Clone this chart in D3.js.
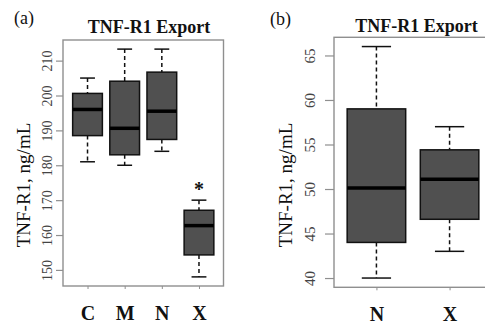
<!DOCTYPE html>
<html>
<head>
<meta charset="utf-8">
<script src="https://cdn.jsdelivr.net/npm/d3@7"></script>
<style>
  html, body { margin: 0; padding: 0; background: #fff; }
  svg { display: block; }
  text { font-family: "Liberation Serif", "Times New Roman", serif; }
</style>
</head>
<body>
<svg id="chart" width="485" height="325"></svg>
<script>
// ---------- Panel (a) data ----------
const catsA = ["C", "M", "N", "X"];
const whiskLoA = [181, 180, 184, 148];
const q1A = [188.5, 183, 187.4, 154.3];
const medA = [196, 190.6, 195.5, 162.7];
const q3A = [200.6, 204.1, 206.7, 167.1];
const whiskHiA = [205, 213.3, 213.3, 170];
const ticksA = [150, 160, 170, 180, 190, 200, 210];
const markA = ["", "", "", "*"];

// ---------- Panel (b) data ----------
const catsB = ["N", "X"];
const whiskLoB = [40, 43];
const q1B = [44, 46.6];
const medB = [50.1, 51.1];
const q3B = [59, 54.4];
const whiskHiB = [66, 57];
const ticksB = [40, 45, 50, 55, 60, 65];
const markB = ["", ""];

const titleText = "TNF-R1 Export";
const yLabelText = "TNF-R1, ng/mL";

const svg = d3.select("#chart");

function panel(opt) {
  const n = opt.cats.length;
  const rows = opt.cats.map((c, i) => ({
    cat: c, pos: i + 1,
    lo: opt.lo[i], q1: opt.q1[i], med: opt.med[i], q3: opt.q3[i], hi: opt.hi[i], mark: opt.mark[i]
  }));
  // R style range: extend 4% on each side
  const yMin = d3.min(opt.lo), yMax = d3.max(opt.hi);
  const yPad = (yMax - yMin) * 0.04;
  const y = d3.scaleLinear().domain([yMin - yPad, yMax + yPad]).range([opt.bottom, opt.top]);
  const xPad = n * 0.04;
  const x = d3.scaleLinear().domain([0.5 - xPad, n + 0.5 + xPad]).range([opt.left, opt.right]);
  const bw = x(0.8) - x(0);

  const g = svg.append("g");

  // frame
  g.append("rect")
    .attr("x", opt.left).attr("y", opt.top)
    .attr("width", opt.right - opt.left).attr("height", opt.bottom - opt.top)
    .attr("fill", "none").attr("stroke", "#8f8f8f").attr("stroke-width", 1.4);

  // y axis
  const yAxis = d3.axisLeft(y).tickValues(opt.ticks).tickSize(opt.tickLen).tickFormat(d3.format("d"));
  const ya = g.append("g").attr("transform", `translate(${opt.left},0)`).call(yAxis);
  ya.select(".domain").remove();
  ya.selectAll(".tick line").attr("stroke", "#8f8f8f").attr("stroke-width", 1.2);
  ya.selectAll(".tick text")
    .attr("transform", "rotate(-90)")
    .attr("x", 0).attr("y", -opt.labOff).attr("dy", 0)
    .attr("text-anchor", "middle")
    .attr("fill", "#444")
    .style("font-family", '"Liberation Serif", "Times New Roman", serif')
    .style("font-size", opt.tickFs + "px");

  // x axis (small ticks, labels)
  const xAxis = d3.axisBottom(x).tickValues(rows.map(r => r.pos)).tickSize(3)
    .tickFormat((d, i) => rows[i].cat);
  const xa = g.append("g").attr("transform", `translate(0,${opt.bottom})`).call(xAxis);
  xa.select(".domain").remove();
  xa.selectAll(".tick line").attr("stroke", "#8f8f8f").attr("stroke-width", 1);
  xa.selectAll(".tick text")
    .attr("y", opt.xLabY - opt.bottom).attr("dy", 0)
    .attr("fill", "#111")
    .style("font-family", '"Liberation Serif", "Times New Roman", serif')
    .style("font-size", "20px").style("font-weight", "bold");

  // boxes
  const b = g.selectAll(".bx").data(rows).enter().append("g").attr("class", "bx");
  // whiskers dashed
  b.append("line")
    .attr("x1", d => x(d.pos)).attr("x2", d => x(d.pos))
    .attr("y1", d => y(d.hi)).attr("y2", d => y(d.q3))
    .attr("stroke", "#111").attr("stroke-width", 1.5).attr("stroke-dasharray", "4,3");
  b.append("line")
    .attr("x1", d => x(d.pos)).attr("x2", d => x(d.pos))
    .attr("y1", d => y(d.q1)).attr("y2", d => y(d.lo))
    .attr("stroke", "#111").attr("stroke-width", 1.5).attr("stroke-dasharray", "4,3");
  // staples
  b.append("line")
    .attr("x1", d => x(d.pos) - bw / 4).attr("x2", d => x(d.pos) + bw / 4)
    .attr("y1", d => y(d.hi)).attr("y2", d => y(d.hi))
    .attr("stroke", "#111").attr("stroke-width", 1.5);
  b.append("line")
    .attr("x1", d => x(d.pos) - bw / 4).attr("x2", d => x(d.pos) + bw / 4)
    .attr("y1", d => y(d.lo)).attr("y2", d => y(d.lo))
    .attr("stroke", "#111").attr("stroke-width", 1.5);
  // box
  b.append("rect")
    .attr("x", d => x(d.pos) - bw / 2).attr("width", bw)
    .attr("y", d => y(d.q3)).attr("height", d => y(d.q1) - y(d.q3))
    .attr("fill", "#505050").attr("stroke", "#111").attr("stroke-width", 1.5);
  // median
  b.append("line")
    .attr("x1", d => x(d.pos) - bw / 2).attr("x2", d => x(d.pos) + bw / 2)
    .attr("y1", d => y(d.med)).attr("y2", d => y(d.med))
    .attr("stroke", "#000").attr("stroke-width", 3.5);
  // significance mark
  b.filter(d => d.mark).append("text")
    .attr("x", d => x(d.pos)).attr("y", d => y(d.hi) - 4)
    .attr("text-anchor", "middle")
    .style("font-size", "20px").style("font-weight", "bold")
    .attr("fill", "#111")
    .text(d => d.mark);

  // title
  g.append("text")
    .attr("x", opt.titleX).attr("y", opt.titleY)
    .attr("text-anchor", "middle")
    .style("font-size", "18px").style("font-weight", "bold")
    .attr("fill", "#111")
    .text(titleText);

  // y label
  g.append("text")
    .attr("transform", `translate(${opt.yLabX},${opt.yLabY}) rotate(-90)`)
    .attr("text-anchor", "middle")
    .style("font-size", "19px")
    .attr("fill", "#111")
    .text(yLabelText);

  // panel letter
  g.append("text")
    .attr("x", opt.letterX).attr("y", opt.letterY)
    .style("font-size", "18px")
    .attr("fill", "#111")
    .text(opt.letter);
}

panel({
  cats: catsA, lo: whiskLoA, q1: q1A, med: medA, q3: q3A, hi: whiskHiA, mark: markA, ticks: ticksA,
  left: 63, right: 223.5, top: 40, bottom: 286,
  tickLen: 7, labOff: 11.5, tickFs: 14, xLabY: 320,
  titleX: 149, titleY: 33, yLabX: 30, yLabY: 185,
  letter: "(a)", letterX: 14, letterY: 24
});

panel({
  cats: catsB, lo: whiskLoB, q1: q1B, med: medB, q3: q3B, hi: whiskHiB, mark: markB, ticks: ticksB,
  left: 334, right: 492, top: 37.3, bottom: 287.3,
  tickLen: 9, labOff: 19, tickFs: 15, xLabY: 321,
  titleX: 416.5, titleY: 32, yLabX: 291.5, yLabY: 185,
  letter: "(b)", letterX: 270, letterY: 25
});
</script>
</body>
</html>
